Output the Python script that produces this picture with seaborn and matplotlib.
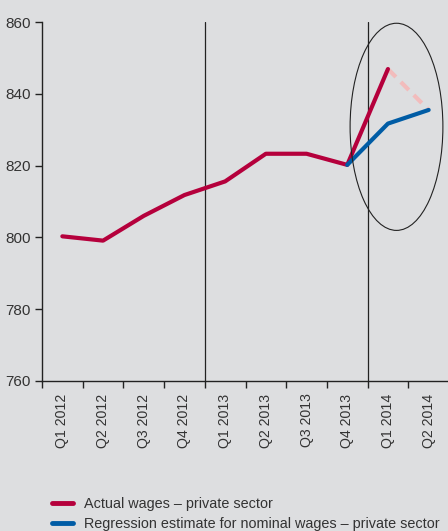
import numpy as np
import pandas as pd
import matplotlib
matplotlib.use("Agg")
import matplotlib.pyplot as plt
from matplotlib.patches import Ellipse
from matplotlib.lines import Line2D
import seaborn as sns

quarters = ["Q1 2012", "Q2 2012", "Q3 2012", "Q4 2012", "Q1 2013",
            "Q2 2013", "Q3 2013", "Q4 2013", "Q1 2014", "Q2 2014"]
actual = [800.3, 799.1, 806.0, 811.8, 815.6, 823.3, 823.3, 820.2, 846.9, np.nan]
estimate = [np.nan, np.nan, np.nan, np.nan, np.nan, np.nan, np.nan, 820.2, 831.7, 835.5]
y_ticks = [760, 780, 800, 820, 840, 860]
legend_labels = ["Actual wages \u2013 private sector",
                 "Regression estimate for nominal wages \u2013 private sector"]

RED = "#b5003c"
BLUE = "#005ca5"
PINK = "#f2bcbc"
BG = "#dddee0"

sns.set_theme(style="white")
plt.rcParams['font.family'] = ['Liberation Sans', 'DejaVu Sans']
plt.rcParams['text.color'] = '#333333'

df = pd.DataFrame({"pos": np.arange(len(quarters)), "quarter": quarters,
                   "actual": actual, "estimate": estimate})

fig = plt.figure(figsize=(4.48, 5.31), dpi=100, facecolor=BG)
ax = fig.add_axes([42/448, 150/531, 407/448, 359/531])
ax.set_facecolor(BG)

# dashed connector: actual Q1 2014 -> estimate Q2 2014
dash = pd.DataFrame({"pos": [8, 9], "val": [actual[8], estimate[9]]})
sns.lineplot(data=dash, x="pos", y="val", ax=ax, color=PINK, lw=3,
             linestyle=(0, (2.7, 1.7)), zorder=2)
sns.lineplot(data=df.dropna(subset=["actual"]), x="pos", y="actual", ax=ax,
             color=RED, lw=3, zorder=3)
sns.lineplot(data=df.dropna(subset=["estimate"]), x="pos", y="estimate", ax=ax,
             color=BLUE, lw=3, zorder=4)

ax.set_xlim(-0.5, len(quarters) - 0.5)
ax.set_ylim(760, 860)
ax.set_yticks(y_ticks)
ax.set_yticklabels([str(v) for v in y_ticks], fontsize=11, color='#333333')

ax.set_xticks(np.arange(len(quarters) + 1) - 0.5)
ax.set_xticklabels([])
ax.set_xticks(np.arange(len(quarters)), minor=True)
ax.set_xticklabels(quarters, minor=True, rotation=90, fontsize=10.2, color='#333333')
ax.tick_params(axis='x', which='major', direction='out', length=5, width=1, color='#222222', bottom=True)
ax.tick_params(axis='x', which='minor', length=0, pad=9)
ax.tick_params(axis='y', direction='out', length=5, width=1, color='#222222', left=True, pad=3)

for s in ["top", "right"]:
    ax.spines[s].set_visible(False)
for s in ["left", "bottom"]:
    ax.spines[s].set_color('#222222')
    ax.spines[s].set_linewidth(1)

for xv in [3.5, 7.5]:
    ax.axvline(xv, color='#222222', lw=0.9, zorder=1)

ax.add_patch(Ellipse((8.21, 830.8), 2.28, 57.7, fill=False, edgecolor='#222222', lw=0.8, zorder=5))

ax.set_xlabel("")
ax.set_ylabel("")

handles = [Line2D([], [], color=RED, lw=3.5), Line2D([], [], color=BLUE, lw=3.5)]
fig.legend(handles, legend_labels, loc='upper left', bbox_to_anchor=(46.5/448, 1 - 491/531),
           frameon=False, fontsize=10.4, handlelength=1.45, handletextpad=0.75,
           labelspacing=0.4, borderaxespad=0)

fig.savefig("out.png", dpi=100, facecolor=BG)
